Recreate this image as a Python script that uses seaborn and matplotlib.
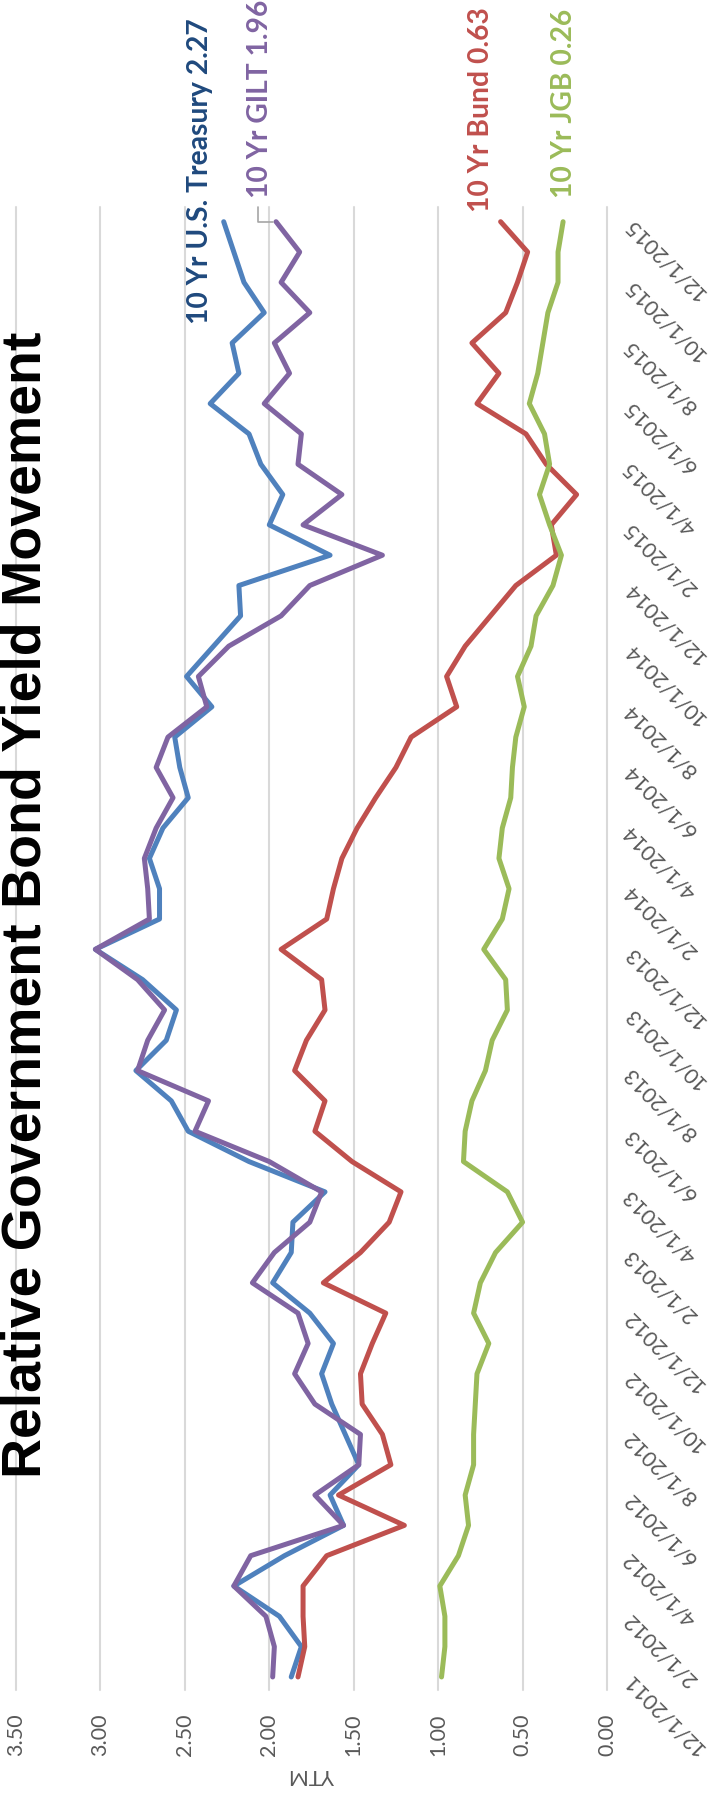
import matplotlib
matplotlib.use("Agg")
import matplotlib.pyplot as plt
import numpy as np
import pandas as pd
import seaborn as sns

# Month-end 10-year yields (%), Dec 2011 .. Dec 2015
treasury = [1.87, 1.81, 1.94, 2.21, 1.91, 1.56, 1.64, 1.47, 1.55, 1.63, 1.69, 1.62,
            1.76, 1.98, 1.87, 1.86, 1.67, 2.12, 2.48, 2.58, 2.79, 2.61, 2.55, 2.75,
            3.03, 2.65, 2.65, 2.71, 2.63, 2.48, 2.53, 2.56, 2.34, 2.49, 2.33, 2.17,
            2.18, 1.64, 2.00, 1.92, 2.05, 2.12, 2.35, 2.18, 2.22, 2.03, 2.15, 2.21, 2.27]
gilt = [1.98, 1.97, 2.02, 2.21, 2.11, 1.56, 1.73, 1.47, 1.46, 1.73, 1.85, 1.77,
        1.83, 2.10, 1.97, 1.76, 1.69, 2.00, 2.44, 2.36, 2.78, 2.72, 2.62, 2.78,
        3.03, 2.71, 2.72, 2.74, 2.67, 2.57, 2.67, 2.60, 2.37, 2.42, 2.24, 1.93,
        1.76, 1.33, 1.80, 1.57, 1.83, 1.81, 2.03, 1.88, 1.97, 1.76, 1.93, 1.82, 1.96]
bund = [1.83, 1.79, 1.80, 1.80, 1.66, 1.20, 1.59, 1.28, 1.33, 1.45, 1.46, 1.39,
        1.31, 1.68, 1.46, 1.29, 1.22, 1.51, 1.73, 1.67, 1.85, 1.78, 1.67, 1.69,
        1.93, 1.66, 1.62, 1.57, 1.48, 1.37, 1.25, 1.16, 0.89, 0.95, 0.84, 0.69,
        0.54, 0.30, 0.33, 0.18, 0.36, 0.48, 0.77, 0.64, 0.80, 0.60, 0.53, 0.47, 0.63]
jgb = [0.98, 0.96, 0.96, 0.99, 0.88, 0.82, 0.84, 0.79, 0.79, 0.78, 0.77, 0.70,
       0.79, 0.75, 0.66, 0.50, 0.59, 0.85, 0.84, 0.80, 0.72, 0.68, 0.59, 0.60,
       0.73, 0.62, 0.58, 0.64, 0.62, 0.57, 0.56, 0.54, 0.49, 0.53, 0.45, 0.42,
       0.32, 0.27, 0.34, 0.40, 0.34, 0.37, 0.46, 0.41, 0.38, 0.35, 0.29, 0.29, 0.26]

series_names = ["10 Yr U.S. Treasury", "10 Yr GILT", "10 Yr Bund", "10 Yr JGB"]
series_values = [treasury, gilt, bund, jgb]
line_colors = ["#4F81BD", "#8064A2", "#C0504D", "#9BBB59"]
label_colors = ["#1F497D", "#8064A2", "#C0504D", "#9BBB59"]

months = pd.date_range("2011-12-01", periods=len(treasury), freq="MS")
date_labels = [f"{d.month}/{d.day}/{d.year}" for d in months]
ytm_ticks = [3.5, 3.0, 2.5, 2.0, 1.5, 1.0, 0.5, 0.0]
ytm_labels = [f"{t:.2f}" for t in ytm_ticks]
title = "Relative Government Bond Yield Movement"

sns.set_theme(style="white")
plt.rcParams["font.family"] = ["Lato", "DejaVu Sans"]

rows = []
for name, vals in zip(series_names, series_values):
    for i, v in enumerate(vals):
        rows.append({"series": name, "idx": i, "ytm": v})
df = pd.DataFrame(rows)

W, H = 719, 1797
fig = plt.figure(figsize=(W / 100, H / 100), dpi=100)
fig.patch.set_facecolor("white")
ax = fig.add_axes([16 / W, 107 / H, 591 / W, 1483 / H])

sns.lineplot(data=df, x="ytm", y="idx", hue="series", hue_order=series_names,
             palette=dict(zip(series_names, line_colors)), orient="y",
             estimator=None, legend=False, linewidth=3.6, ax=ax,
             solid_joinstyle="round", solid_capstyle="round")

n = len(treasury)
ax.set_xlim(3.5, 0.0)
ax.set_ylim(-0.43, n - 1 + 0.485)

# value axis (runs along the bottom, values decreasing to the right)
ax.set_xticks(ytm_ticks)
ax.set_xticklabels(ytm_labels, rotation=90, color="#595959", fontsize=15.5)
ax.tick_params(axis="x", length=0, pad=17)
ax.xaxis.grid(True, color="#D9D9D9", linewidth=1.5)
for gl in ax.get_xgridlines():
    gl.set_clip_on(False)
ax.set_xlabel("YTM", rotation=180, color="#595959", fontsize=15.5, labelpad=6)

# date axis (runs up the right side)
ax.yaxis.tick_right()
ax.set_yticks(range(0, n, 2))
ax.set_yticklabels(date_labels[::2])
ax.tick_params(axis="y", length=0, pad=14.5, labelsize=15.5, labelcolor="#595959")
for tk in ax.yaxis.get_major_ticks():
    lab = tk.label2
    lab.set_rotation(135)
    lab.set_rotation_mode("anchor")
    lab.set_ha("right")
    lab.set_va("center")
ax.set_ylabel("")
ax.yaxis.grid(False)
for sp in ax.spines.values():
    sp.set_visible(False)

# end-of-line labels
offsets = [(-23.6, -102), (-16, 24), (-20, 10), (1, 24)]
for name, vals, col, (dx, dy) in zip(series_names, series_values, label_colors, offsets):
    ax.annotate(f"{name} {vals[-1]:.2f}", xy=(vals[-1], n - 1), xytext=(dx * 0.72, dy * 0.72),
                textcoords="offset points", rotation=90, ha="center", va="bottom",
                color=col, fontsize=20.3, fontweight="bold", annotation_clip=False)

# leader line from the GILT label to its last point
g_end = gilt[-1]
ax.plot([g_end + 0.02, g_end + 0.106, g_end + 0.106], [n - 1, n - 1, n - 1 + 0.47],
        color="#A6A6A6", linewidth=1.2, clip_on=False)

fig.text(0.5 / W, 1 - 905 / H, title, rotation=90, ha="left", va="center",
         fontsize=40, fontweight="bold", color="black",
         family=["Liberation Sans", "DejaVu Sans"])

fig.savefig("out.png", dpi=100, facecolor="white")
